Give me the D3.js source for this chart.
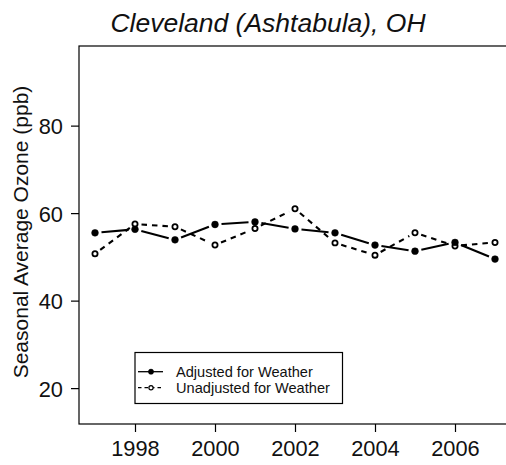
<!DOCTYPE html>
<html>
<head>
<meta charset="utf-8">
<script src="https://cdn.jsdelivr.net/npm/d3@7"></script>
<style>
  body { margin: 0; background: #fff; }
  svg { display: block; font-family: "Liberation Sans", Arial, sans-serif; }
</style>
</head>
<body>
<div id="chart"></div>
<script>
// chart data
const years = [1997, 1998, 1999, 2000, 2001, 2002, 2003, 2004, 2005, 2006, 2007];
const adjusted = [55.5, 56.3, 53.9, 57.4, 58.0, 56.4, 55.5, 52.7, 51.3, 53.3, 49.5];
const unadjusted = [50.7, 57.5, 56.9, 52.7, 56.5, 61.0, 53.2, 50.4, 55.5, 52.5, 53.3];
const xTicks = [1998, 2000, 2002, 2004, 2006];
const yTicks = [20, 40, 60, 80];
const titleText = "Cleveland (Ashtabula), OH";
const yLabel = "Seasonal Average Ozone (ppb)";
const legendLabels = ["Adjusted for Weather", "Unadjusted for Weather"];

window.onload = init;

function init()
{
    const width = 506;
    const height = 465;
    const left = 79, right = 511, top = 46, bottom = 424;

    const svg = d3.select('#chart').append('svg').attr('width', width).attr('height', height);

    const x = d3.scaleLinear().domain([1996.6, 2007.4]).range([left, right]);
    const y = d3.scaleLinear().domain([11.8, 98.2]).range([bottom, top]);

    // box
    svg.append('rect').attr('x', left).attr('y', top)
        .attr('width', right - left).attr('height', bottom - top)
        .attr('fill', 'none').attr('stroke', '#000').attr('stroke-width', 1.2);

    // axes
    const yAxis = svg.append('g').attr('transform', `translate(${left},0)`)
        .call(d3.axisLeft(y).tickValues(yTicks).tickSize(8).tickPadding(8));
    const xAxis = svg.append('g').attr('transform', `translate(0,${bottom})`)
        .call(d3.axisBottom(x).tickValues(xTicks).tickFormat(d3.format('d')).tickSize(8).tickPadding(9));
    [xAxis, yAxis].forEach(a => {
        a.select('.domain').remove();
        a.selectAll('line').attr('stroke', '#000').attr('stroke-width', 1.2);
        a.selectAll('text').attr('font-size', 21.8).attr('fill', '#111')
            .style('font-family', '"Liberation Sans", Arial, sans-serif');
    });
    yAxis.selectAll('text').attr('dy', '0.38em');

    // title
    svg.append('text').attr('x', 268).attr('y', 32).attr('text-anchor', 'middle')
        .attr('font-size', 26.5).attr('font-style', 'italic').attr('fill', '#111').text(titleText);

    // y label
    svg.append('text').attr('transform', 'translate(28,232) rotate(-90)')
        .attr('text-anchor', 'middle').attr('font-size', 21).attr('fill', '#111').text(yLabel);

    const gap = 6.5;
    function drawSeries(values, dash, filled) {
        const pts = years.map((yr, i) => [x(yr), y(values[i])]);
        const segs = d3.pairs(pts).map(([a, b]) => {
            const dx = b[0] - a[0], dy = b[1] - a[1];
            const len = Math.hypot(dx, dy);
            const ux = dx / len, uy = dy / len;
            return [a[0] + ux * gap, a[1] + uy * gap, b[0] - ux * gap, b[1] - uy * gap];
        });
        svg.append('g').selectAll('line').data(segs).enter().append('line')
            .attr('x1', d => d[0]).attr('y1', d => d[1])
            .attr('x2', d => d[2]).attr('y2', d => d[3])
            .attr('stroke', '#000').attr('stroke-width', 2.1)
            .attr('stroke-dasharray', dash);
        svg.append('g').selectAll('circle').data(pts).enter().append('circle')
            .attr('cx', d => d[0]).attr('cy', d => d[1])
            .attr('r', filled ? 3.4 : 2.6)
            .attr('fill', filled ? '#000' : '#fff')
            .attr('stroke', '#000').attr('stroke-width', filled ? 0.5 : 1.8);
    }
    drawSeries(unadjusted, '5.5,5', false);
    drawSeries(adjusted, null, true);

    // legend
    const lg = svg.append('g');
    lg.append('rect').attr('x', 135).attr('y', 352.5).attr('width', 207.5).attr('height', 51)
        .attr('fill', '#fff').attr('stroke', '#000').attr('stroke-width', 1.2);
    const rows = [371.7, 387.7];
    legendLabels.forEach((lab, i) => {
        const ry = rows[i];
        lg.append('line').attr('x1', 138).attr('x2', 163).attr('y1', ry).attr('y2', ry)
            .attr('stroke', '#000').attr('stroke-width', 1.3)
            .attr('stroke-dasharray', i === 0 ? null : '3.5,3');
        lg.append('circle').attr('cx', 151).attr('cy', ry)
            .attr('r', i === 0 ? 2.6 : 2.1)
            .attr('fill', i === 0 ? '#000' : '#fff')
            .attr('stroke', '#000').attr('stroke-width', i === 0 ? 0.5 : 1.2);
        lg.append('text').attr('x', 176).attr('y', ry + 5.2)
            .attr('font-size', 14.6).attr('fill', '#111').text(lab);
    });
}
</script>
</body>
</html>
